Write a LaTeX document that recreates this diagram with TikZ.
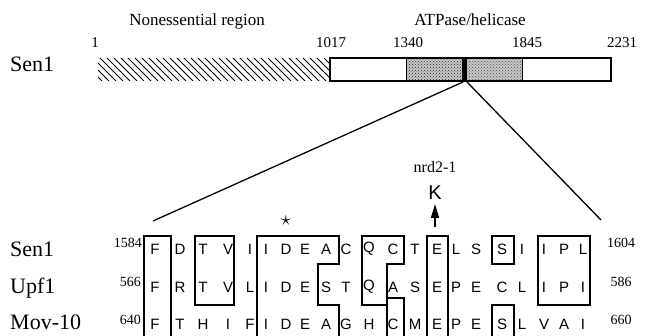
\documentclass[tikz,border=0pt]{standalone}
\usepackage{fontspec}
\setmainfont{Liberation Serif}
\newfontfamily\seqfont{Liberation Sans}
\usetikzlibrary{patterns,arrows.meta}
\begin{document}
\begin{tikzpicture}[x=1pt,y=-1pt,
  lab/.style={font=\fontsize{22}{22}\selectfont, anchor=base west, inner sep=0pt},
  ttl/.style={font=\fontsize{17}{17}\selectfont, anchor=base, inner sep=0pt},
  num/.style={font=\fontsize{15}{15}\selectfont, anchor=base, inner sep=0pt},
  anum/.style={font=\fontsize{14}{14}\selectfont, inner sep=0pt},
  seq/.style={font=\seqfont\fontsize{15}{15}\selectfont, inner sep=0pt},
  bx/.style={line width=1.3pt},
  conn/.style={line width=1.3pt},
]
\useasboundingbox (0,0) rectangle (645,336);

% titles and labels
\node[ttl] (nonss) at (197,26) {Nonessential region};
\node[ttl] (atp) at (470,26) {ATPase/helicase};
\node[num] (n1) at (95,48) {1};
\node[num] (n1017) at (331,48) {1017};
\node[num] (n1340) at (408,48) {1340};
\node[num] (n1845) at (527,48) {1845};
\node[num] (n2231) at (622,48) {2231};
\node[lab] (sentop) at (10,72) {Sen1};

% hatched nonessential region
\begin{scope}
\clip (98,58) rectangle (330,81);
\foreach \x in {72,79,...,335} \draw[line width=0.8pt] (\x,58) -- (\x+23,81);
\end{scope}

% bar
\fill[black!22] (406,58) rectangle (522,81);
\fill[pattern=crosshatch dots, pattern color=black!85] (406,58) rectangle (462,81);
\fill[pattern=crosshatch dots, pattern color=black!70] (467,58) rectangle (522,81);
\fill (462,58) rectangle (467,81);
\draw[line width=1.3pt] (330,58) rectangle (611,81);
\draw[line width=1pt] (406,58) -- (406,81) (522,58) -- (522,81);

% connectors to alignment
\coordinate (apexL) at (463,82);
\coordinate (apexR) at (467,82);
\coordinate (endL) at (153,221);
\coordinate (endR) at (601,220);
\draw[conn] (apexL) -- (endL);
\draw[conn] (apexR) -- (endR);

% mutation label
\node[font=\fontsize{16}{16}\selectfont, anchor=base, inner sep=0pt] (nrd) at (435,173) {nrd2-1};
\node[font=\seqfont\fontsize{20}{20}\selectfont, inner sep=0pt] (K) at (435,193) {K};
\coordinate (arrS) at (435,227);
\coordinate (arrE) at (435,204);
\draw[line width=1.6pt, -{Triangle[length=14pt,width=8pt]}] (arrS) -- (arrE);
\node[font=\fontsize{22}{22}\selectfont, inner sep=0pt] (star) at (286,221) {$\star$};

% row labels
\node[lab] (lsen) at (10,257) {Sen1};
\node[lab] (lupf) at (10,294) {Upf1};
\node[lab] (lmov) at (10,330) {Mov-10};

% numbers
\node[anum, anchor=east] (a1584) at (142,243) {1584};
\node[anum, anchor=east] (a566) at (141,282) {566};
\node[anum, anchor=east] (a640) at (141,320) {640};
\node[anum] (a1604) at (621,243) {1604};
\node[anum] (a586) at (621,282) {586};
\node[anum] (a660) at (621,320) {660};

% sequences
\foreach \x/\l [count=\i] in {155/F,180/D,203/T,228/V,250/I,266/I,286/D,305/E,326/A,346/C,369/Q,393/C,415/T,437/E,456/L,476/S,502/S,522/I,544/I,564/P,583/L}
  \node[seq] (ra\i) at (\x,249) {\l};
\foreach \x/\l [count=\i] in {155/F,180/R,203/T,228/V,250/L,266/I,286/D,305/E,326/S,346/T,369/Q,393/A,415/S,437/E,456/P,476/E,502/C,522/L,544/I,564/P,583/I}
  \node[seq] (rb\i) at (\x,287) {\l};
\foreach \x/\l [count=\i] in {155/F,180/T,203/H,228/I,250/F,266/I,286/D,305/E,326/A,346/G,369/H,393/C,415/M,437/E,456/P,476/E,502/S,522/L,544/V,564/A,583/I}
  \node[seq] (rc\i) at (\x,324) {\l};

% boxes
\draw[bx] (144,336) -- (144,236) -- (171,236) -- (171,336);
\draw[bx] (195,236) rectangle (234,305);
\draw[bx] (257,336) -- (257,236) -- (339,236) -- (339,264) -- (318,264) -- (318,305) -- (339,305) -- (339,336);
\draw[bx] (362,236) -- (404,236) -- (404,264) -- (387,264) -- (387,305) -- (362,305) -- cycle;
\draw[bx] (387,305) -- (387,336) (387,298) -- (404,298) -- (404,336);
\draw[bx] (427,336) -- (427,236) -- (448,236) -- (448,336);
\draw[bx] (492,236) rectangle (514,264);
\draw[bx] (492,336) -- (492,305) -- (514,305) -- (514,336);
\draw[bx] (538,236) rectangle (590,305);
\end{tikzpicture}
\end{document}
